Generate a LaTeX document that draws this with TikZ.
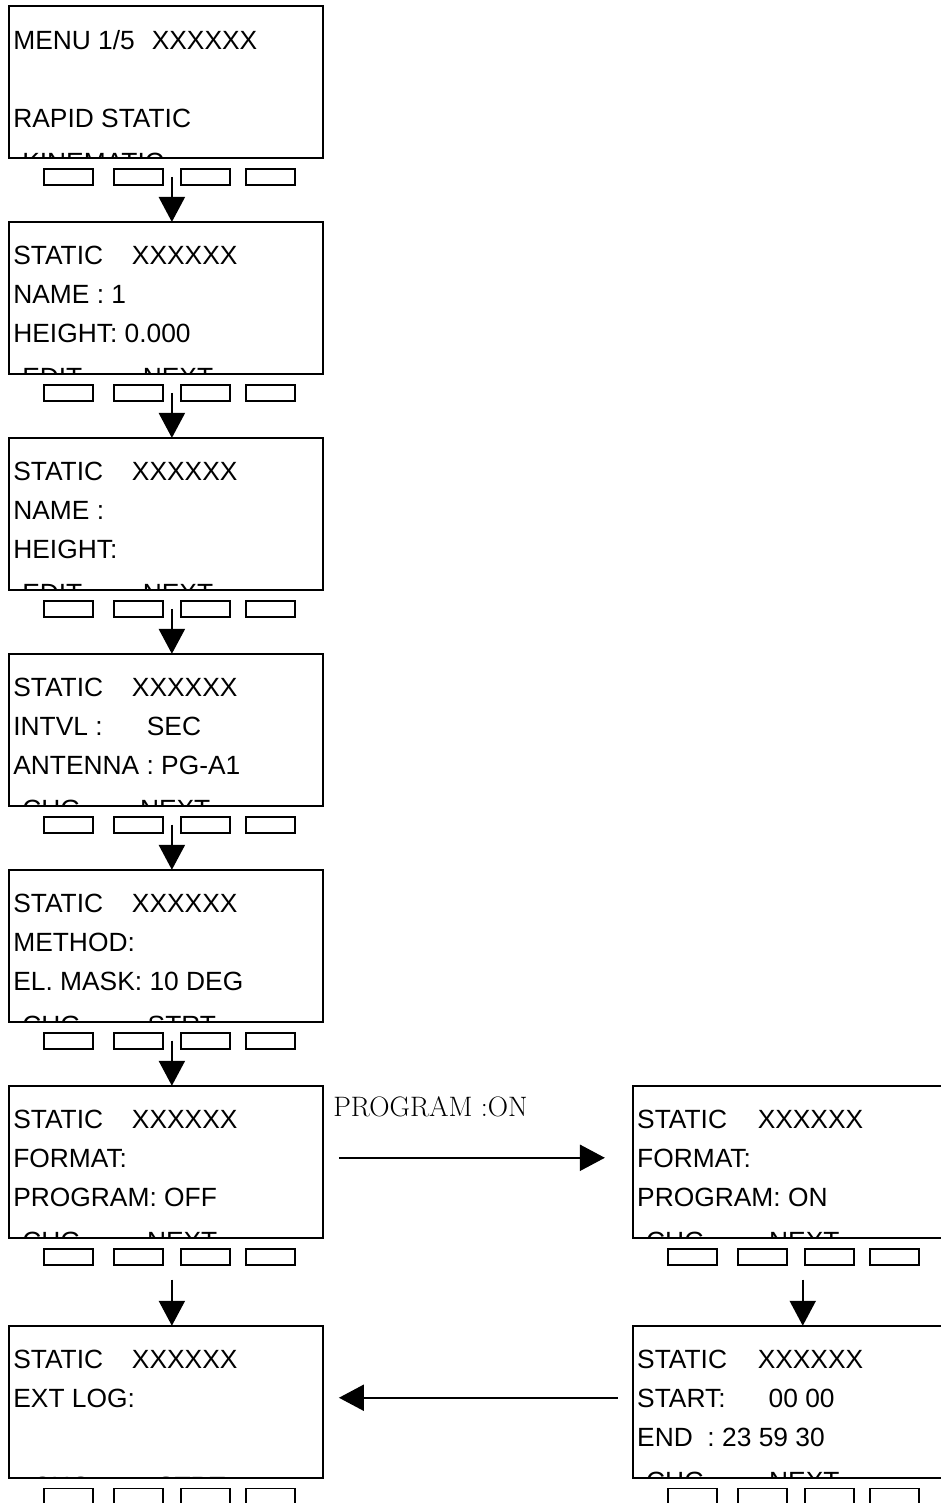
\documentclass[tikz,border=0pt]{standalone}
\usepackage{fontspec}
\newfontfamily\lcdfont{Liberation Sans}
\usetikzlibrary{arrows.meta,positioning,calc}

\begin{document}
\begin{tikzpicture}[
  x=0.02cm, y=0.02cm,
  screen/.style={draw,line width=1.1pt,minimum width=6.28cm,minimum height=3.04cm,inner sep=0pt,outer sep=0pt},
  key/.style={draw,line width=1pt,minimum width=0.98cm,minimum height=0.32cm,inner sep=0pt,anchor=north west},
  lcd/.style={anchor=north west,inner sep=0pt,align=left,font=\lcdfont\fontsize{15pt}{22.1pt}\selectfont},
  note/.style={anchor=base west,inner sep=0pt,font=\fontsize{16pt}{19pt}\selectfont},
  arrow/.style={-{Triangle[length=0.5cm,width=0.52cm]},line width=1.3pt}
]
\useasboundingbox (0,0) rectangle (940,-1503);

% screens
\node[screen,anchor=north west] (s1) at (9,-6) {};
\node[screen,below=1.28cm of s1] (s2) {};
\node[screen,below=1.28cm of s2] (s3) {};
\node[screen,below=1.28cm of s3] (s4) {};
\node[screen,below=1.28cm of s4] (s5) {};
\node[screen,below=1.28cm of s5] (s6) {};
\node[screen,below=1.76cm of s6] (s7) {};
\node[screen,right=6.2cm of s6] (r1) {};
\node[screen,below=1.76cm of r1] (r2) {};

% soft keys
\foreach \s in {s1,s2,s3,s4,s5,s6,s7,r1,r2}
  \foreach \x [count=\k] in {34,104,171,236}
    \node[key] (\s b\k) at ($(\s.south west)+(\x,-10)$) {};

% display texts
\begin{scope}
  \clip (s1.south west) rectangle (s1.north east);
  \node[lcd] (t1) at ($(s1.north west)+(4,-24)$) {\makebox[78.8pt][l]{MENU 1/5}XXXXXX\\ \\RAPID STATIC\\[3pt]\hspace*{5.1pt}KINEMATIC};
\end{scope}
\begin{scope}
  \clip (s2.south west) rectangle (s2.north east);
  \node[lcd] (t2) at ($(s2.north west)+(4,-24)$) {\makebox[67.5pt][l]{STATIC}XXXXXX\\NAME : 1\\HEIGHT: 0.000\\[3pt]\hspace*{5.1pt}\makebox[68.6pt][l]{EDIT}NEXT};
\end{scope}
\begin{scope}
  \clip (s3.south west) rectangle (s3.north east);
  \node[lcd] (t3) at ($(s3.north west)+(4,-24)$) {\makebox[67.5pt][l]{STATIC}XXXXXX\\NAME :\\HEIGHT:\\[3pt]\hspace*{5.1pt}\makebox[68.6pt][l]{EDIT}NEXT};
\end{scope}
\begin{scope}
  \clip (s4.south west) rectangle (s4.north east);
  \node[lcd] (t4) at ($(s4.north west)+(4,-24)$) {\makebox[67.5pt][l]{STATIC}XXXXXX\\\makebox[76pt][l]{INTVL :}SEC\\ANTENNA : PG-A1\\[3pt]\hspace*{5.1pt}\makebox[67pt][l]{CHG}NEXT};
\end{scope}
\begin{scope}
  \clip (s5.south west) rectangle (s5.north east);
  \node[lcd] (t5) at ($(s5.north west)+(4,-24)$) {\makebox[67.5pt][l]{STATIC}XXXXXX\\METHOD:\\EL. MASK: 10 DEG\\[3pt]\hspace*{5.1pt}\makebox[71.4pt][l]{CHG}STRT};
\end{scope}
\begin{scope}
  \clip (s6.south west) rectangle (s6.north east);
  \node[lcd] (t6) at ($(s6.north west)+(4,-24)$) {\makebox[67.5pt][l]{STATIC}XXXXXX\\FORMAT:\\PROGRAM: OFF\\[3pt]\hspace*{5.1pt}\makebox[71pt][l]{CHG}NEXT};
\end{scope}
\begin{scope}
  \clip (s7.south west) rectangle (s7.north east);
  \node[lcd] (t7) at ($(s7.north west)+(4,-24)$) {\makebox[67.5pt][l]{STATIC}XXXXXX\\EXT LOG:\\ \\[6pt]\hspace*{10.8pt}\makebox[71pt][l]{CHG}STRT};
\end{scope}
\begin{scope}
  \clip (r1.south west) rectangle (r1.north east);
  \node[lcd] (t8) at ($(r1.north west)+(4,-24)$) {\makebox[68.6pt][l]{STATIC}XXXXXX\\FORMAT:\\PROGRAM: ON\\[3pt]\hspace*{5.1pt}\makebox[70pt][l]{CHG}NEXT};
\end{scope}
\begin{scope}
  \clip (r2.south west) rectangle (r2.north east);
  \node[lcd] (t9) at ($(r2.north west)+(4,-24)$) {\makebox[68.6pt][l]{STATIC}XXXXXX\\\makebox[74.8pt][l]{START:}00 00\\END\ \ : 23 59 30\\[3pt]\hspace*{5.1pt}\makebox[70pt][l]{CHG}NEXT};
\end{scope}

% flow
\foreach \i/\j in {1/2,2/3,3/4,4/5,5/6} {
  \coordinate (a\i) at ($(s\i b2.east)!.5!(s\i b3.west)$);
  \draw[arrow] (a\i) -- (a\i |- s\j.north);
}
\coordinate (a6) at ($(s6b2.south east)!.5!(s6b3.south west)+(0,-14)$);
\draw[arrow] (a6) -- (a6 |- s7.north);
\coordinate (a7) at ($(r1b2.south east)!.5!(r1b3.south west)+(7,-14)$);
\draw[arrow] (a7) -- (a7 |- r2.north);

\coordinate (h1) at ($(s6.north east)+(16,-72)$);
\coordinate (h2) at ($(r1.north west)+(-28,-72)$);
\draw[arrow] (h1) -- (h2);
\node[note] (lbl) at ($(h1)+(-6,41)$) {PROGRAM :ON};

\coordinate (h3) at ($(r2.north west)+(-15,-72)$);
\coordinate (h4) at ($(s7.north east)+(16,-72)$);
\draw[arrow] (h3) -- (h4);
\end{tikzpicture}
\end{document}
